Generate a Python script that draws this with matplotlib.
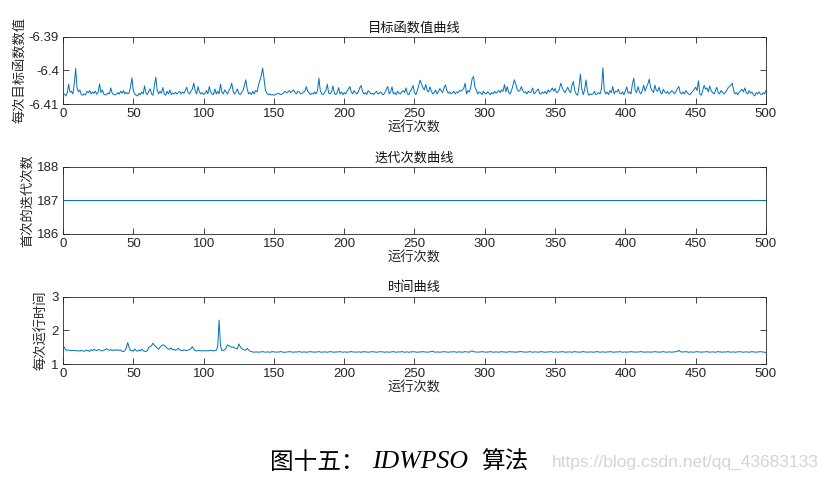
import numpy as np
import matplotlib
matplotlib.use("Agg")
import matplotlib.pyplot as plt

plt.rcParams['font.family'] = ['Liberation Sans', 'Noto Sans CJK SC']

# 目标函数值: offsets above -6.41, in units of 1e-4
obj_off = [
    30, 24, 33, 59, 35, 38, 30, 60, 106, 48, 36, 42, 28, 26, 30, 27, 38, 34, 40, 30, 36, 32, 38, 29, 35,
    60, 34, 42, 30, 27, 28, 33, 30, 48, 32, 28, 27, 30, 34, 29, 38, 32, 40, 30, 35, 30, 33, 50, 78, 40,
    30, 26, 24, 32, 28, 36, 30, 54, 33, 28, 38, 45, 30, 26, 55, 80, 40, 30, 38, 32, 49, 30, 26, 38, 30,
    42, 28, 33, 30, 35, 30, 34, 38, 30, 36, 32, 40, 50, 34, 30, 38, 45, 62, 40, 30, 52, 36, 30, 34, 28,
    32, 40, 30, 52, 35, 30, 28, 45, 30, 38, 30, 59, 35, 30, 42, 36, 30, 40, 48, 62, 38, 30, 36, 45, 32,
    28, 34, 40, 55, 72, 45, 30, 34, 28, 38, 30, 40, 36, 55, 70, 85, 107, 75, 40, 32, 28, 30, 27, 28, 26,
    28, 30, 32, 30, 28, 30, 34, 38, 33, 36, 40, 34, 38, 42, 35, 30, 38, 36, 30, 32, 35, 38, 52, 38, 34,
    28, 32, 30, 36, 30, 40, 77, 40, 30, 28, 34, 40, 59, 32, 30, 36, 54, 32, 28, 34, 49, 30, 36, 28, 34,
    30, 38, 44, 52, 36, 30, 40, 34, 30, 36, 48, 55, 38, 30, 34, 28, 40, 36, 30, 32, 28, 34, 38, 30, 33,
    36, 30, 28, 34, 45, 52, 30, 36, 51, 30, 34, 28, 38, 32, 30, 36, 40, 34, 48, 30, 28, 38, 45, 55, 34,
    28, 40, 55, 71, 60, 48, 42, 58, 40, 36, 51, 38, 30, 34, 42, 30, 36, 46, 40, 34, 48, 57, 40, 32, 36,
    30, 34, 38, 30, 36, 34, 40, 38, 42, 46, 62, 30, 40, 36, 50, 75, 82, 50, 42, 30, 36, 34, 28, 38, 32,
    30, 36, 32, 28, 34, 30, 38, 32, 36, 40, 34, 42, 38, 58, 36, 52, 34, 30, 40, 55, 72, 60, 44, 38, 40,
    52, 40, 34, 36, 30, 38, 34, 36, 48, 30, 34, 40, 45, 32, 30, 36, 32, 38, 30, 42, 36, 40, 48, 38, 46,
    34, 36, 44, 62, 50, 40, 34, 42, 50, 40, 34, 55, 67, 40, 30, 26, 50, 89, 45, 28, 42, 72, 38, 26, 30,
    28, 30, 38, 28, 30, 34, 30, 45, 108, 40, 30, 36, 28, 40, 34, 52, 30, 38, 36, 44, 32, 30, 36, 28, 40,
    51, 32, 36, 30, 60, 77, 40, 34, 52, 36, 30, 40, 56, 38, 50, 60, 74, 48, 40, 34, 56, 40, 38, 50, 34,
    30, 44, 36, 32, 38, 30, 34, 40, 36, 30, 38, 46, 52, 34, 30, 36, 30, 40, 34, 30, 28, 34, 38, 44, 50,
    40, 69, 30, 26, 40, 56, 44, 48, 36, 54, 40, 34, 30, 38, 50, 34, 30, 40, 36, 30, 34, 40, 48, 52, 56,
    62, 40, 30, 34, 28, 36, 40, 44, 36, 48, 34, 30, 40, 32, 36, 28, 24, 34, 30, 36, 30, 28, 34, 30, 40,
]

# 迭代次数
iters = [187] * 500

# 每次运行时间
run_time = [
    1.50, 1.42, 1.41, 1.42, 1.40, 1.41, 1.40, 1.41, 1.40, 1.39, 1.40, 1.38, 1.41, 1.39, 1.38, 1.40, 1.41, 1.39, 1.38, 1.43, 1.40, 1.44, 1.41, 1.40, 1.43,
    1.42, 1.40, 1.39, 1.41, 1.43, 1.46, 1.42, 1.41, 1.43, 1.40, 1.42, 1.41, 1.43, 1.40, 1.42, 1.41, 1.38, 1.37, 1.40, 1.48, 1.64, 1.50, 1.40, 1.41, 1.38,
    1.45, 1.40, 1.38, 1.42, 1.39, 1.44, 1.40, 1.38, 1.37, 1.40, 1.50, 1.52, 1.55, 1.62, 1.56, 1.52, 1.48, 1.44, 1.50, 1.55, 1.57, 1.56, 1.52, 1.47, 1.45,
    1.44, 1.48, 1.42, 1.44, 1.41, 1.43, 1.47, 1.42, 1.41, 1.40, 1.42, 1.41, 1.40, 1.42, 1.43, 1.46, 1.52, 1.44, 1.40, 1.39, 1.40, 1.40, 1.39, 1.40, 1.40,
    1.39, 1.40, 1.39, 1.40, 1.41, 1.40, 1.39, 1.40, 1.41, 1.50, 2.31, 1.55, 1.40, 1.41, 1.42, 1.48, 1.57, 1.55, 1.52, 1.50, 1.51, 1.48, 1.47, 1.45, 1.60,
    1.52, 1.46, 1.44, 1.42, 1.41, 1.47, 1.42, 1.38, 1.37, 1.36, 1.35, 1.36, 1.36, 1.35, 1.36, 1.36, 1.37, 1.36, 1.35, 1.36, 1.36, 1.35, 1.36, 1.37, 1.36,
    1.36, 1.35, 1.36, 1.36, 1.37, 1.36, 1.35, 1.35, 1.36, 1.36, 1.37, 1.36, 1.36, 1.35, 1.36, 1.36, 1.36, 1.37, 1.36, 1.35, 1.36, 1.36, 1.35, 1.36, 1.36,
    1.37, 1.36, 1.36, 1.35, 1.36, 1.36, 1.37, 1.36, 1.35, 1.36, 1.36, 1.36, 1.35, 1.36, 1.37, 1.36, 1.36, 1.35, 1.36, 1.36, 1.36, 1.37, 1.36, 1.35, 1.36,
    1.36, 1.35, 1.36, 1.36, 1.37, 1.36, 1.36, 1.35, 1.36, 1.36, 1.36, 1.35, 1.36, 1.37, 1.36, 1.36, 1.35, 1.36, 1.36, 1.37, 1.36, 1.36, 1.35, 1.36, 1.36,
    1.37, 1.36, 1.36, 1.35, 1.36, 1.36, 1.35, 1.36, 1.36, 1.37, 1.36, 1.35, 1.36, 1.36, 1.36, 1.37, 1.36, 1.35, 1.36, 1.36, 1.35, 1.36, 1.36, 1.37, 1.36,
    1.36, 1.35, 1.36, 1.36, 1.36, 1.37, 1.36, 1.36, 1.35, 1.36, 1.36, 1.37, 1.38, 1.36, 1.35, 1.36, 1.36, 1.35, 1.36, 1.36, 1.37, 1.36, 1.36, 1.35, 1.36,
    1.36, 1.36, 1.37, 1.36, 1.35, 1.36, 1.36, 1.36, 1.35, 1.36, 1.37, 1.36, 1.36, 1.35, 1.38, 1.39, 1.37, 1.36, 1.36, 1.35, 1.36, 1.36, 1.37, 1.36, 1.36,
    1.35, 1.36, 1.36, 1.37, 1.36, 1.35, 1.36, 1.36, 1.36, 1.35, 1.36, 1.37, 1.36, 1.36, 1.35, 1.36, 1.36, 1.37, 1.36, 1.36, 1.36, 1.35, 1.36, 1.36, 1.37,
    1.37, 1.36, 1.36, 1.35, 1.36, 1.36, 1.37, 1.36, 1.35, 1.36, 1.36, 1.36, 1.35, 1.36, 1.37, 1.36, 1.36, 1.35, 1.36, 1.36, 1.36, 1.37, 1.36, 1.35, 1.36,
    1.36, 1.35, 1.36, 1.36, 1.37, 1.36, 1.36, 1.35, 1.36, 1.36, 1.36, 1.35, 1.36, 1.37, 1.36, 1.36, 1.35, 1.36, 1.36, 1.37, 1.36, 1.36, 1.35, 1.36, 1.36,
    1.36, 1.35, 1.36, 1.36, 1.37, 1.36, 1.35, 1.36, 1.36, 1.36, 1.35, 1.36, 1.36, 1.37, 1.36, 1.36, 1.35, 1.36, 1.36, 1.36, 1.37, 1.36, 1.35, 1.36, 1.36,
    1.35, 1.36, 1.36, 1.37, 1.36, 1.36, 1.35, 1.36, 1.36, 1.36, 1.37, 1.36, 1.36, 1.35, 1.36, 1.36, 1.36, 1.35, 1.36, 1.36, 1.37, 1.36, 1.36, 1.35, 1.36,
    1.36, 1.37, 1.36, 1.35, 1.36, 1.36, 1.36, 1.35, 1.36, 1.36, 1.37, 1.38, 1.41, 1.37, 1.36, 1.36, 1.36, 1.37, 1.36, 1.35, 1.36, 1.36, 1.35, 1.36, 1.36,
    1.37, 1.36, 1.36, 1.35, 1.36, 1.36, 1.36, 1.37, 1.36, 1.35, 1.36, 1.36, 1.36, 1.35, 1.36, 1.37, 1.36, 1.36, 1.35, 1.36, 1.36, 1.36, 1.37, 1.36, 1.35,
    1.36, 1.36, 1.35, 1.36, 1.36, 1.37, 1.36, 1.36, 1.35, 1.36, 1.36, 1.36, 1.35, 1.36, 1.37, 1.36, 1.36, 1.35, 1.36, 1.36, 1.37, 1.36, 1.36, 1.35, 1.34,
]

runs = np.arange(1, 501)
obj = -6.41 + np.array(obj_off) * 1e-4

xticks = [0, 50, 100, 150, 200, 250, 300, 350, 400, 450, 500]
line_c = '#0072BD'
axis_c = '#262626'
cjk = ['Noto Sans CJK SC', 'DejaVu Sans']

fig = plt.figure(figsize=(8.27, 4.86), dpi=100)

panels = [
    (obj, (-6.41, -6.39), [-6.41, -6.40, -6.39], ['-6.41', '-6.4', '-6.39'],
     '目标函数值曲线', '每次目标函数数值', 0.786),
    (iters, (186, 188), [186, 187, 188], ['186', '187', '188'],
     '迭代次数曲线', '首次的迭代次数', 0.519),
    (run_time, (1, 3), [1, 2, 3], ['1', '2', '3'],
     '时间曲线', '每次运行时间', 0.251),
]

for y, ylim, yt, ytl, title, ylab, bottom in panels:
    ax = fig.add_axes([0.0762, bottom, 0.850, 0.138])
    ax.plot(runs, y, color=line_c, lw=0.7)
    ax.set_xlim(0, 500)
    ax.set_ylim(*ylim)
    ax.set_xticks(xticks)
    ax.set_yticks(yt)
    ax.set_yticklabels(ytl)
    ax.tick_params(direction='in', top=True, right=True, length=4, width=0.6,
                   colors=axis_c, labelsize=9.5, pad=3)
    for s in ax.spines.values():
        s.set_color(axis_c)
        s.set_linewidth(0.6)
    ax.set_title(title, family=cjk, fontsize=9.5, color='#111111', pad=4)
    ax.set_xlabel('运行次数', family=cjk, fontsize=9.5, color=axis_c, labelpad=1)
    ax.set_ylabel(ylab, family=cjk, fontsize=9.5, color=axis_c, labelpad=2)

# caption
cy = 1 - 462 / 486
fig.text(270 / 827, cy, '图十五：', family=cjk, fontsize=17, va='center', ha='left')
fig.text(372 / 827, cy, 'IDWPSO', family='Liberation Serif', style='italic',
         fontsize=18.5, va='center', ha='left')
fig.text(481 / 827, cy, '算法', family=cjk, fontsize=17, va='center', ha='left')
fig.text(819 / 827, cy, 'https://blog.csdn.net/qq_43683133', fontsize=12.5,
         color='#d4d4d4', va='center', ha='right')

fig.savefig('out.png', dpi=100)
